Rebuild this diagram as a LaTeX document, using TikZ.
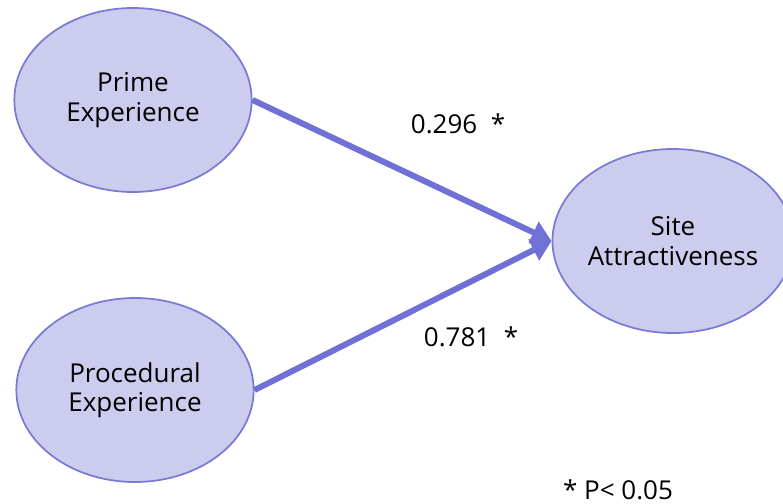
\documentclass[tikz,border=0pt]{standalone}
\usepackage{fontspec}
\setmainfont{Open Sans}
\usetikzlibrary{shapes.geometric,arrows.meta}

\definecolor{fondbulle}{RGB}{204,204,238}
\definecolor{bordbulle}{RGB}{122,122,212}
\definecolor{coulfleche}{RGB}{112,112,214}

\begin{document}
\begin{tikzpicture}[x=0.75pt,y=-0.75pt,
  bulle/.style={ellipse,draw=bordbulle,fill=fondbulle,line width=1.3pt,
    minimum width=178pt,minimum height=138pt,inner sep=0pt,
    align=center,font=\fontsize{19.5}{22}\selectfont},
  fleche/.style={draw=coulfleche,line width=4.5pt,
    -{Triangle[length=15pt,width=17pt]}},
  coef/.style={font=\fontsize{19.5}{22}\selectfont}]

\useasboundingbox (0,0) rectangle (783,504);

% Variables latentes
\node[bulle] (prime) at (133,100) {Prime\\Experience};
\node[bulle] (proc) at (135,390) {Procedural\\Experience};
\node[bulle] (site) at (673,241) {Site\\Attractiveness};

% Chemins
\draw[fleche] (prime.east) -- (site.west);
\draw[fleche] (proc.east) -- (site.west);

% Coefficients
\node[coef] (c1) at (458,124) {0.296 \ *};
\node[coef] (c2) at (471,337) {0.781 \ *};
\node[coef] (sig) at (618,490) {* P<\ 0.05};

\end{tikzpicture}
\end{document}
